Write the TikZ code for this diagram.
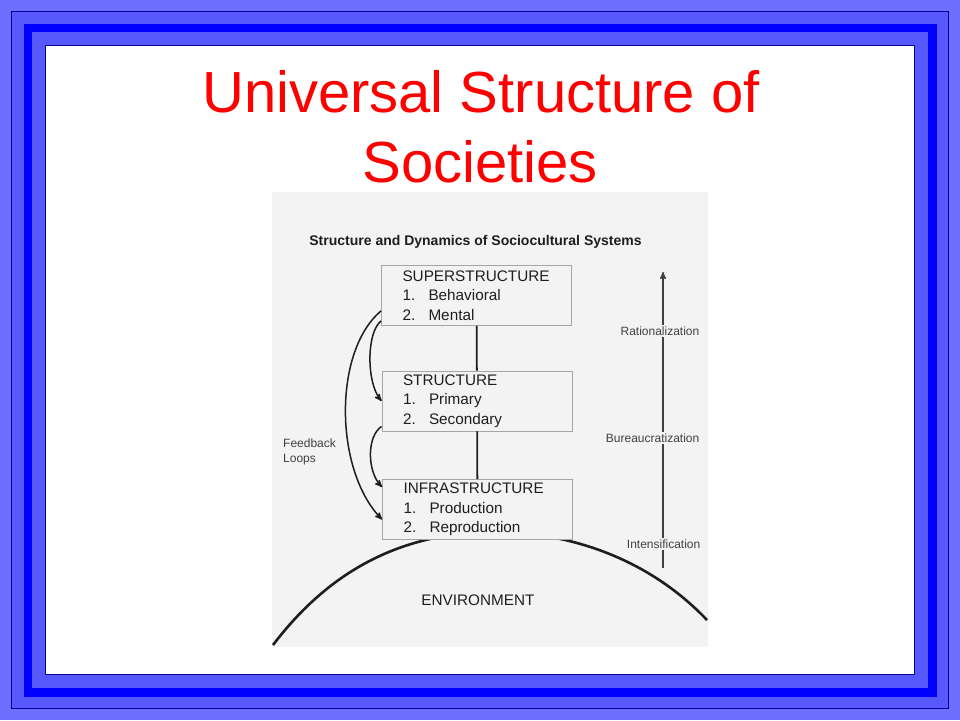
\documentclass[tikz,border=0pt]{standalone}
\usepackage{fontspec}
\setmainfont{Liberation Sans}
\usetikzlibrary{arrows}
\usetikzlibrary{calc}
\usetikzlibrary{positioning}
\definecolor{outerband}{RGB}{110,110,255}
\definecolor{midband}{RGB}{88,88,255}
\definecolor{pureband}{RGB}{0,0,255}
\definecolor{frameline}{RGB}{0,0,150}
\definecolor{scan}{RGB}{243,243,243}
\definecolor{ink}{RGB}{30,30,30}
\newcommand{\itm}[2]{\makebox[26pt][l]{#1.}#2}
\tikzset{
  headline/.style={anchor=base, inner sep=0, text=red, font=\fontsize{58}{70}\selectfont},
  layer/.style={
    draw=gray!70, line width=0.8pt, fill=scan,
    minimum width=190pt, minimum height=60pt, text width=148pt,
    inner xsep=21pt, inner ysep=0pt, align=left,
    text=ink, font=\fontsize{15.3}{19.5}\selectfont
  },
  link/.style={draw=ink, line width=1.8pt},
  feedback/.style={->,>=stealth', line width=1.5pt, draw=ink},
  uparrow/.style={->,>=stealth', line width=1.4pt, draw=black!75},
  gradlbl/.style={anchor=east, fill=scan, inner sep=1.5pt, text=black!75, font=\fontsize{12}{14}\selectfont}
}

\begin{document}
\begin{tikzpicture}[x=1pt,y=-1pt]
  \useasboundingbox (0,0) rectangle (960,720);
  \fill[outerband] (0,0) rectangle (960,720);
  \draw[frameline, fill=midband] (11.5,11.5) rectangle (948.5,708.5);
  \fill[pureband] (24,24) rectangle (936.5,696.5);
  \fill[midband] (32,32) rectangle (928,688);
  \draw[frameline, fill=white] (45.5,45.5) rectangle (914.5,674.5);

  \node[headline] (head1) at (481,112) {Universal Structure of};
  \node[headline] (head2) at (480,182) {Societies};

  \fill[scan] (272,192) rectangle (708,647);
  \node[anchor=base, inner sep=0, text=ink, font=\fontsize{14}{16}\selectfont\bfseries] (caption) at (475.5,245) {Structure and Dynamics of Sociocultural Systems};

  \coordinate (envL) at (273,645);
  \coordinate (envT) at (485,532);
  \coordinate (envR) at (707,620);
  \draw[ink, line width=2.6pt] (envL) .. controls (330,570) and (400,535) .. (envT) .. controls (570,530) and (650,560) .. (envR);
  \node[inner sep=0, text=ink, font=\fontsize{15.3}{18}\selectfont] (env) at (478,600) {ENVIRONMENT};

  \node[layer] (super) at (476.5,295.5) {SUPERSTRUCTURE\\\itm{1}{Behavioral}\\\itm{2}{Mental}};
  \node[layer] (struct) at (477,401) {STRUCTURE\\\itm{1}{Primary}\\\itm{2}{Secondary}};
  \node[layer] (infra) at (477.5,509.5) {INFRASTRUCTURE\\\itm{1}{Production}\\\itm{2}{Reproduction}};
  \draw[link] (super) -- (struct);
  \draw[link] (struct) -- (infra);

  \draw[feedback] ([yshift=5pt]super.south west) .. controls +(-15,12) and +(-15,-18) .. (struct.west);
  \draw[feedback] ([yshift=5pt]struct.south west) .. controls +(-15,10) and +(-15,-16) .. ([yshift=-8pt]infra.north west);
  \draw[feedback] ([yshift=15pt]super.south west) .. controls +(-48,40) and +(-48,-50) .. ([yshift=-10pt]infra.west);
  \node[anchor=north west, inner sep=0, align=left, text=black!75, font=\fontsize{12}{15}\selectfont] (loops) at (283,439) {Feedback\\Loops};

  \coordinate (rbot) at (663,568);
  \coordinate (rtop) at (663,272);
  \draw[uparrow] (rbot) -- (rtop);
  \node[gradlbl] (rat) at (701,331) {Rationalization};
  \node[gradlbl] (bur) at (701,438) {Bureaucratization};
  \node[gradlbl] (int) at (702,544) {Intensification};
\end{tikzpicture}
\end{document}
